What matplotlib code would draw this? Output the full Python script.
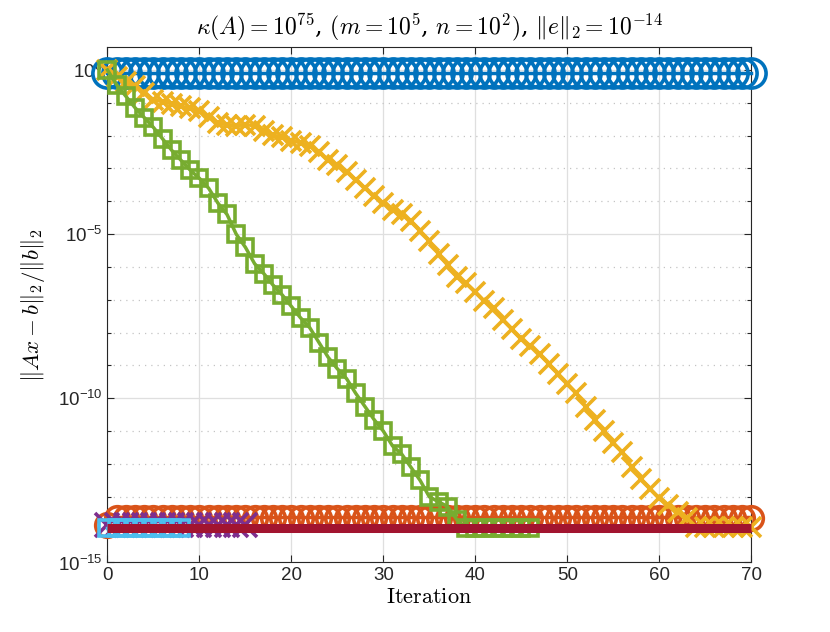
import matplotlib
matplotlib.use("Agg")
import matplotlib.pyplot as plt
import numpy as np
from matplotlib.ticker import FixedLocator, LogFormatterSciNotation, NullFormatter

plt.rcParams["font.family"] = ["Liberation Sans", "DejaVu Sans"]
plt.rcParams["mathtext.fontset"] = "custom"
plt.rcParams["mathtext.rm"] = "Liberation Sans"
plt.rcParams["mathtext.it"] = "Liberation Sans:italic"
plt.rcParams["mathtext.bf"] = "Liberation Sans:bold"

# log10 of the relative residual, one value per iteration
blue_log = [-0.1] * 71
orange_log = [-13.85] + [-13.63] * 70
yellow_log = [
    0.0, -0.2, -0.36, -0.5, -0.7, -0.9, -0.97, -1.03, -1.1, -1.17,
    -1.25, -1.42, -1.6, -1.68, -1.7, -1.66, -1.7, -1.85, -1.98, -2.05,
    -2.15, -2.22, -2.32, -2.5, -2.75, -2.9, -3.1, -3.35, -3.6, -3.85,
    -4.05, -4.25, -4.4, -4.6, -4.9, -5.2, -5.6, -5.95, -6.3, -6.5,
    -6.75, -7.05, -7.25, -7.6, -7.9, -8.2, -8.4, -8.65, -8.95, -9.25,
    -9.55, -9.85, -10.25, -10.65, -11.0, -11.35, -11.65, -12.1, -12.45, -12.75,
    -13.05, -13.25, -13.45, -13.65, -13.93, -13.93, -13.93, -13.93, -13.93, -13.93,
    -13.93,
]
purple_log = [-13.87] * 16
green_log = [
    0.0, -0.45, -0.8, -1.15, -1.45, -1.75, -2.1, -2.45, -2.75, -3.05,
    -3.3, -3.6, -4.05, -4.4, -5.0, -5.4, -5.9, -6.2, -6.55, -6.85,
    -7.2, -7.55, -7.85, -8.3, -8.75, -9.1, -9.4, -9.85, -10.25, -10.65,
    -11.0, -11.45, -11.7, -12.1, -12.5, -13.0, -13.15, -13.3, -13.7, -13.95,
    -13.95, -13.95, -13.95, -13.95, -13.95, -13.95, -13.95,
]
cyan_log = [-13.95] * 9
darkred_log = [-13.95] * 71

series = [
    (blue_log, "#0072BD", "o", 21),
    (orange_log, "#D95319", "o", 17),
    (yellow_log, "#EDB120", "x", 15),
    (purple_log, "#7E2F8E", "x", 17),
    (green_log, "#77AC30", "s", 11),
    (cyan_log, "#4DBEEE", "s", 11),
]

fig = plt.figure(figsize=(8.3, 6.32), dpi=100)
ax = fig.add_axes([0.1295, 0.11, 0.7755, 0.8156])

for k, (logs, color, marker, ms) in enumerate(series):
    vals = 10.0 ** np.array(logs)
    ax.semilogy(np.arange(len(vals)), vals, color=color, marker=marker,
                markersize=ms, markeredgewidth=2.6, markerfacecolor="none",
                linewidth=2.5, clip_on=False, zorder=3 + k * 0.1)

dr = 10.0 ** np.array(darkred_log)
ax.semilogy(np.arange(len(dr)), dr, color="#A2142F", linewidth=6.5,
            solid_capstyle="butt", clip_on=False, zorder=4)

ax.set_xlim(0, 70)
ax.set_ylim(1e-15, 10 ** 0.7)
ax.set_xticks(np.arange(0, 71, 10))
ax.yaxis.set_major_locator(FixedLocator([1e-15, 1e-10, 1e-5, 1e0]))
ax.yaxis.set_major_formatter(LogFormatterSciNotation())
ax.yaxis.set_minor_locator(FixedLocator(10.0 ** np.arange(-15, 1)))
ax.yaxis.set_minor_formatter(NullFormatter())

ax.grid(True, which="major", color="#dfdfdf", linewidth=0.9, linestyle="-")
ax.grid(True, which="minor", axis="y", color="#c4c4c4", linewidth=0.9,
        linestyle=(0, (1, 4)))
ax.set_axisbelow(True)

ax.tick_params(which="both", direction="in", top=True, right=True,
               labelsize=13.5, colors="#262626", width=0.8)
ax.tick_params(which="major", length=5)
ax.tick_params(which="minor", length=3)
for s in ax.spines.values():
    s.set_color("#262626")
    s.set_linewidth(0.8)

ax.set_title(r"$\kappa(A) = 10^{75}$, $(m = 10^5$, $n = 10^2)$, $\|e\|_2 = 10^{-14}$",
             fontsize=17, math_fontfamily="cm", family="DejaVu Serif", pad=9)
ax.set_xlabel(r"$\mathrm{Iteration}$", fontsize=16, math_fontfamily="cm", labelpad=2)
ax.set_ylabel(r"$\|Ax-b\|_2/\|b\|_2$", fontsize=16.5, math_fontfamily="cm", labelpad=8)

fig.savefig("out.png", dpi=100)
